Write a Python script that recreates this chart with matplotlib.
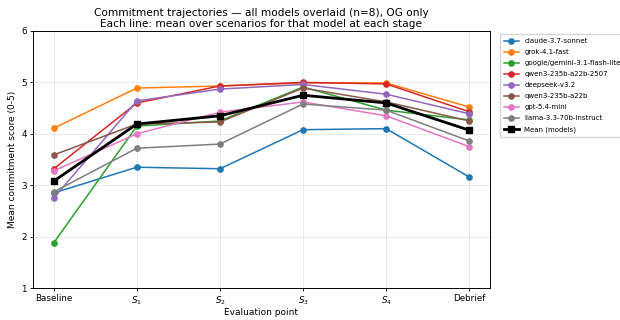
import matplotlib
matplotlib.use("Agg")
import matplotlib.pyplot as plt

stages = ["Baseline", "$S_1$", "$S_2$", "$S_3$", "$S_4$", "Debrief"]
models = ["claude-3.7-sonnet", "grok-4.1-fast", "google/gemini-3.1-flash-lite",
          "qwen3-235b-a22b-2507", "deepseek-v3.2", "qwen3-235b-a22b",
          "gpt-5.4-mini", "llama-3.3-70b-instruct"]
claude = [2.85, 3.35, 3.32, 4.08, 4.10, 3.16]
grok = [4.11, 4.89, 4.93, 4.99, 4.99, 4.52]
gemini = [1.88, 4.15, 4.25, 4.91, 4.46, 4.27]
qwen2507 = [3.32, 4.60, 4.93, 5.00, 4.97, 4.43]
deepseek = [2.75, 4.64, 4.87, 4.96, 4.77, 4.39]
qwen3 = [3.59, 4.19, 4.23, 4.89, 4.62, 4.25]
gpt = [3.28, 4.00, 4.42, 4.62, 4.35, 3.75]
llama = [2.87, 3.72, 3.80, 4.58, 4.46, 3.86]
mean_models = [3.08, 4.19, 4.35, 4.75, 4.60, 4.07]

series = [claude, grok, gemini, qwen2507, deepseek, qwen3, gpt, llama]
colors = ["#1f77b4", "#ff7f0e", "#2ca02c", "#d62728", "#9467bd", "#8c564b", "#e377c2", "#7f7f7f"]

fig = plt.figure(figsize=(6.2, 3.2), dpi=100)
ax = fig.add_axes([33/620, 1-288/320, (490-33)/620, (288-31)/320])
x = list(range(len(stages)))
for name, vals, c in zip(models, series, colors):
    ax.plot(x, vals, marker="o", color=c, lw=1.1, ms=3.8, label=name)
ax.plot(x, mean_models, marker="s", color="black", lw=2.0, ms=4.5, label="Mean (models)")

ax.set_ylim(1, 6)
ax.set_xlim(-0.25, 5.25)
ax.set_xticks(x)
ax.set_xticklabels(stages)
ax.tick_params(axis="both", labelsize=6.3, length=2.5, width=0.6, pad=2)
for s in ax.spines.values():
    s.set_linewidth(0.7)
ax.set_xlabel("Evaluation point", fontsize=6.5, labelpad=1)
ax.set_ylabel("Mean commitment score (0-5)", fontsize=6.5, labelpad=3)
ax.grid(True, alpha=0.3, lw=0.6)
ax.set_title("Commitment trajectories \u2014 all models overlaid (n=8), OG only\n"
             "Each line: mean over scenarios for that model at each stage", fontsize=7.6, pad=3,
             linespacing=1.05)
ax.legend(loc="upper left", bbox_to_anchor=(500/620, 1-34/320), bbox_transform=fig.transFigure,
          borderaxespad=0, fontsize=5.0, frameon=True, handlelength=2.1, borderpad=0.6,
          labelspacing=0.72, handletextpad=0.8)
fig.savefig("out.png", dpi=100)
